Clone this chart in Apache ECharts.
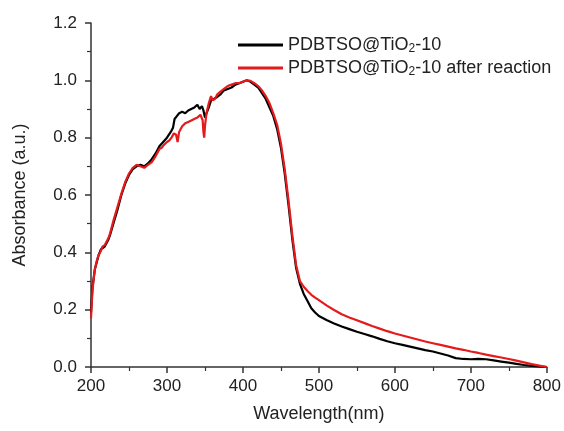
<!DOCTYPE html>
<html>
<head>
<meta charset="utf-8">
<script src="https://cdn.jsdelivr.net/npm/echarts@6/dist/echarts.min.js"></script>
<style>
html,body{margin:0;padding:0;background:#fff;}
#chart{width:564px;height:431px;}
</style>
</head>
<body>
<div id="chart"></div>
<script>
// Series names
const seriesNames = ['PDBTSO@TiO2-10', 'PDBTSO@TiO2-10 after reaction'];

// Axis ticks
const xTicks = [200, 300, 400, 500, 600, 700, 800];
const yTicks = [0.0, 0.2, 0.4, 0.6, 0.8, 1.0, 1.2];

// PDBTSO@TiO2-10 (black)
const blackWl = [200,202,205,208,210,213,215,218,220,223,225,230,235,240,245,250,255,260,265,270,275,280,285,290,295,300,305,308,310,313,316,320,324,328,332,336,340,343,346,348,350,352,355,358,360,365,370,375,380,385,390,395,400,405,410,415,420,425,430,435,440,445,450,455,460,465,470,475,480,485,490,495,500,510,520,530,540,550,560,570,580,590,600,610,620,630,640,650,660,670,680,690,700,710,720,730,740,750,760,770,780,790,800];
const blackAbs = [0.19,0.28,0.34,0.37,0.39,0.41,0.415,0.42,0.43,0.445,0.46,0.505,0.55,0.60,0.64,0.67,0.69,0.70,0.705,0.70,0.71,0.725,0.745,0.77,0.785,0.80,0.82,0.835,0.865,0.875,0.885,0.89,0.885,0.895,0.90,0.905,0.915,0.90,0.91,0.895,0.87,0.885,0.905,0.93,0.925,0.94,0.95,0.965,0.97,0.975,0.985,0.99,0.995,1.0,0.995,0.985,0.975,0.955,0.935,0.905,0.875,0.83,0.765,0.675,0.565,0.445,0.345,0.29,0.255,0.23,0.205,0.19,0.178,0.164,0.152,0.141,0.132,0.123,0.115,0.107,0.098,0.090,0.083,0.077,0.071,0.065,0.059,0.054,0.047,0.040,0.031,0.028,0.027,0.028,0.027,0.023,0.019,0.015,0.011,0.007,0.004,0.002,0.0];

// PDBTSO@TiO2-10 after reaction (red)
const redWl = [200,202,205,208,210,213,215,218,220,223,225,230,235,240,245,250,255,260,265,270,275,280,285,290,293,296,300,303,306,309,312,314,316,320,324,328,332,336,340,344,346,347,348,349,350,352,355,358,360,363,366,370,375,380,385,390,395,400,405,410,415,420,425,430,435,440,445,450,455,460,465,470,475,480,485,490,495,500,510,520,530,540,550,560,570,580,590,600,610,620,630,640,650,660,670,680,690,700,710,720,730,740,750,760,770,780,790,800];
const redAbs = [0.17,0.27,0.34,0.375,0.39,0.405,0.42,0.425,0.435,0.45,0.465,0.515,0.56,0.605,0.645,0.675,0.695,0.705,0.70,0.695,0.705,0.715,0.735,0.76,0.765,0.775,0.785,0.79,0.80,0.815,0.81,0.785,0.82,0.84,0.85,0.855,0.86,0.865,0.87,0.88,0.885,0.86,0.82,0.80,0.84,0.885,0.92,0.945,0.93,0.935,0.95,0.96,0.97,0.98,0.985,0.99,0.99,0.995,1.0,0.998,0.99,0.98,0.965,0.945,0.92,0.885,0.845,0.78,0.69,0.58,0.46,0.355,0.30,0.28,0.265,0.252,0.242,0.233,0.215,0.199,0.184,0.173,0.163,0.153,0.143,0.134,0.125,0.117,0.110,0.103,0.096,0.089,0.083,0.077,0.071,0.065,0.060,0.054,0.049,0.043,0.038,0.033,0.028,0.022,0.016,0.010,0.005,0.0];

const toPairs = (xs, ys) => xs.map((x, i) => [x, ys[i]]);

const FONT = 'Liberation Sans, Arial, sans-serif';
const AXIS_COLOR = '#333';
const TEXT_COLOR = '#222';

const chart = echarts.init(document.getElementById('chart'), null, {renderer: 'canvas'});

chart.setOption({
  animation: false,
  backgroundColor: '#fff',
  grid: {left: 91, right: 17, top: 23, bottom: 64, containLabel: false},
  legend: {
    orient: 'vertical',
    left: 233,
    top: 31,
    itemWidth: 45,
    itemHeight: 3,
    itemGap: 4,
    icon: 'rect',
    data: seriesNames,
    formatter: function (name) {
      const parts = name.split('TiO2');
      return '{a|' + parts[0] + 'TiO}{s|2}{a|' + parts[1] + '}';
    },
    textStyle: {
      color: TEXT_COLOR,
      fontFamily: FONT,
      rich: {
        a: {fontSize: 18, fontFamily: FONT, color: TEXT_COLOR, lineHeight: 20},
        s: {fontSize: 12, fontFamily: FONT, color: TEXT_COLOR, verticalAlign: 'bottom', lineHeight: 20, padding: [6, 0, 0, 0]}
      }
    }
  },
  xAxis: {
    type: 'value',
    min: xTicks[0],
    max: xTicks[xTicks.length - 1],
    interval: 100,
    name: 'Wavelength(nm)',
    nameLocation: 'middle',
    nameGap: 38,
    nameTextStyle: {fontSize: 18, fontFamily: FONT, color: TEXT_COLOR},
    axisLine: {show: true, lineStyle: {color: AXIS_COLOR, width: 1.5}},
    axisTick: {show: true, inside: false, length: 6, lineStyle: {color: AXIS_COLOR, width: 1.5}},
    minorTick: {show: true, splitNumber: 2, length: 4, lineStyle: {color: AXIS_COLOR, width: 1.2}},
    axisLabel: {fontSize: 17, fontFamily: FONT, color: TEXT_COLOR, margin: 11},
    splitLine: {show: false}
  },
  yAxis: {
    type: 'value',
    min: yTicks[0],
    max: yTicks[yTicks.length - 1],
    interval: 0.2,
    name: 'Absorbance (a.u.)',
    nameLocation: 'middle',
    nameGap: 62,
    nameRotate: 90,
    nameTextStyle: {fontSize: 18, fontFamily: FONT, color: TEXT_COLOR},
    axisLine: {show: true, lineStyle: {color: AXIS_COLOR, width: 1.5}},
    axisTick: {show: true, inside: false, length: 6, lineStyle: {color: AXIS_COLOR, width: 1.5}},
    minorTick: {show: true, splitNumber: 2, length: 4, lineStyle: {color: AXIS_COLOR, width: 1.2}},
    axisLabel: {fontSize: 17, fontFamily: FONT, color: TEXT_COLOR, margin: 14,
      formatter: v => v.toFixed(1)},
    splitLine: {show: false}
  },
  series: [
    {
      name: seriesNames[0],
      type: 'line',
      data: toPairs(blackWl, blackAbs),
      showSymbol: false,
      symbol: 'none',
      lineStyle: {color: '#000', width: 2.2},
      itemStyle: {color: '#000'},
      z: 2
    },
    {
      name: seriesNames[1],
      type: 'line',
      data: toPairs(redWl, redAbs),
      showSymbol: false,
      symbol: 'none',
      lineStyle: {color: '#e41a1c', width: 2.2},
      itemStyle: {color: '#e41a1c'},
      z: 3
    }
  ]
});
</script>
</body>
</html>
